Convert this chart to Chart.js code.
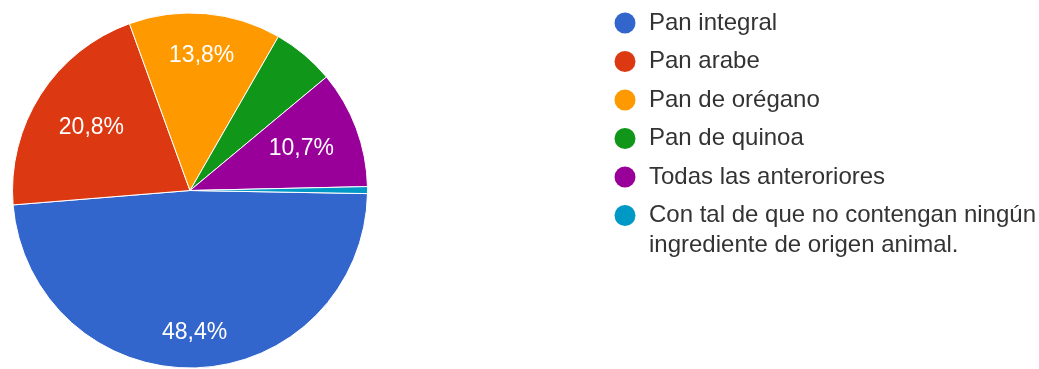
<!DOCTYPE html>
<html>
<head>
<meta charset="utf-8">
<script src="https://cdn.jsdelivr.net/npm/chart.js@4"></script>
<style>
  html, body { margin: 0; padding: 0; background: #fff; }
  #wrap { width: 1039px; height: 369px; }
</style>
</head>
<body>
<div id="wrap"><canvas id="pie-chart"></canvas></div>
<script>
// respuestas (159 en total)
var labels = ["Pan integral", "Pan arabe", "Pan de orégano", "Pan de quinoa",
  "Todas las anteroriores", "Con tal de que no contengan ningún ingrediente de origen animal."];
var legendLines = [["Pan integral"], ["Pan arabe"], ["Pan de orégano"], ["Pan de quinoa"],
  ["Todas las anteroriores"], ["Con tal de que no contengan ningún", "ingrediente de origen animal."]];
var counts = [77, 33, 22, 9, 17, 1];
var colors = ["#3366cc", "#dc3912", "#ff9900", "#109618", "#990099", "#0099c6"];
// how far out the % text sits in each slice (0 = no label)
var labelPos = [0.8, 0.66, 0.76, 0, 0.67, 0];

var FONT = "'Liberation Sans', Arial, sans-serif";

var sliceLabels = {
  id: 'sliceLabels',
  afterDatasetsDraw: function(chart) {
    var ctx = chart.ctx;
    var meta = chart.getDatasetMeta(0);
    var total = counts.reduce(function(a, b) { return a + b; }, 0);
    ctx.save();
    ctx.font = "23px " + FONT;
    ctx.fillStyle = "#fff";
    ctx.textAlign = "center";
    ctx.textBaseline = "middle";
    meta.data.forEach(function(arc, i) {
      if (!labelPos[i]) return;
      var p = arc.getProps(['x', 'y', 'startAngle', 'endAngle', 'outerRadius'], true);
      var mid = (p.startAngle + p.endAngle) / 2;
      var r = p.outerRadius * labelPos[i];
      var txt = (counts[i] / total * 100).toFixed(1).replace('.', ',') + '%';
      ctx.fillText(txt, p.x + Math.cos(mid) * r, p.y + Math.sin(mid) * r);
    });
    ctx.restore();
  }
};

var sideLegend = {
  id: 'sideLegend',
  afterDraw: function(chart) {
    var ctx = chart.ctx;
    var x0 = 625, y = 23, step = 38.5;
    ctx.save();
    ctx.font = "24px " + FONT;
    ctx.textBaseline = "middle";
    legendLines.forEach(function(lines, i) {
      ctx.fillStyle = colors[i];
      ctx.beginPath();
      ctx.arc(x0, y, 10.5, 0, Math.PI * 2);
      ctx.fill();
      ctx.fillStyle = "#333";
      lines.forEach(function(line, j) {
        ctx.fillText(line, x0 + 24, y + j * 30);
      });
      y += step;
    });
    ctx.restore();
  }
};

new Chart(document.getElementById("pie-chart"), {
  type: 'pie',
  data: {
    labels: labels,
    datasets: [{
      data: counts,
      backgroundColor: colors,
      borderColor: "#fff",
      borderWidth: 1
    }]
  },
  options: {
    responsive: true,
    maintainAspectRatio: false,
    animation: false,
    rotation: 91,
    layout: { padding: { left: 12, top: 12, right: 671, bottom: 0 } },
    plugins: {
      legend: { display: false },
      tooltip: { enabled: false },
      title: { display: false }
    }
  },
  plugins: [sliceLabels, sideLegend]
});
</script>
</body>
</html>
